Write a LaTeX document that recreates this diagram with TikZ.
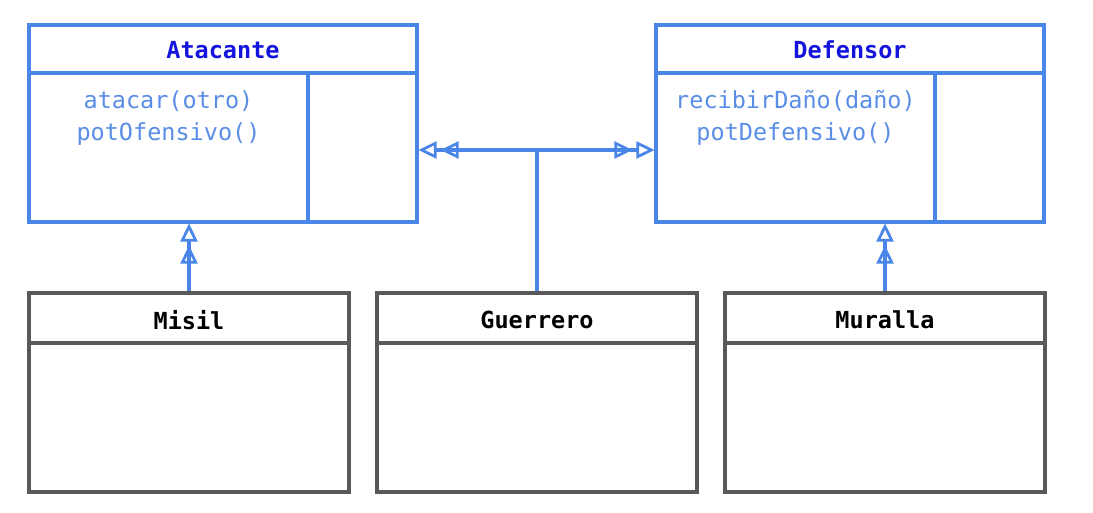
\documentclass[tikz,border=0pt]{standalone}
\usepackage{fontspec}
\setmonofont{DejaVu Sans Mono}
\usetikzlibrary{arrows.meta}
\definecolor{lineblue}{HTML}{4A86E8}
\definecolor{titleblue}{HTML}{1414DC}
\definecolor{methblue}{HTML}{5A8EE6}
\definecolor{boxgray}{HTML}{595959}
\tikzset{
  ifacebox/.style={draw=lineblue, line width=3.1pt, minimum width=388pt, minimum height=197pt, inner sep=0pt, fill=white},
  classbox/.style={draw=boxgray, line width=3.1pt, minimum width=320pt, minimum height=199pt, inner sep=0pt, fill=white},
  ititle/.style={font=\ttfamily\bfseries\fontsize{23.5}{28}\selectfont, text=titleblue},
  ctitle/.style={font=\ttfamily\bfseries\fontsize{23.5}{28}\selectfont, text=black},
  meth/.style={font=\ttfamily\fontsize{23.5}{32.5}\selectfont, text=methblue, align=center},
  conn/.style={draw=lineblue, line width=3.1pt},
  realiz/.style={conn, -{Triangle[open,length=18pt,width=17pt,line width=2.7pt,sep=4pt] Triangle[open,length=18pt,width=17pt,line width=2.7pt]}}
}
\begin{document}
\begin{tikzpicture}[x=1pt,y=-1pt]
\useasboundingbox (0,0) rectangle (1093,512);
% interfaces
\node[ifacebox] (atac) at (223,123.5) {};
\node[ifacebox] (def) at (850,123.5) {};
\draw[lineblue, line width=3.1pt] (29,73) -- (417,73) (308,73) -- (308,222);
\draw[lineblue, line width=3.1pt] (656,73) -- (1044,73) (935,73) -- (935,222);
\node[ititle] (atact) at (223,50) {Atacante};
\node[ititle] (deft) at (850,50) {Defensor};
\node[meth] (atacm) at (168.5,118) {atacar(otro)\\potOfensivo()};
\node[meth] (defm) at (795.5,118) {recibirDaño(daño)\\potDefensivo()};
% classes
\node[classbox] (misil) at (189,392.5) {};
\node[classbox] (guer) at (537,392.5) {};
\node[classbox] (mur) at (885,392.5) {};
\draw[boxgray, line width=3.1pt] (29,343) -- (349,343) (377,343) -- (697,343) (725,343) -- (1045,343);
\node[ctitle] (misilt) at (189,320) {Misil};
\node[ctitle] (guert) at (537,320) {Guerrero};
\node[ctitle] (murt) at (885,320) {Muralla};
% connectors
\coordinate (j) at (537,150);
\draw[conn] (guer.north) -- (j);
\draw[realiz] (j) -- (j -| atac.east);
\draw[realiz] (j) -- (j -| def.west);
\draw[realiz] (misil.north) -- (misil.north |- atac.south);
\draw[realiz] (mur.north) -- (mur.north |- def.south);
\end{tikzpicture}
\end{document}
